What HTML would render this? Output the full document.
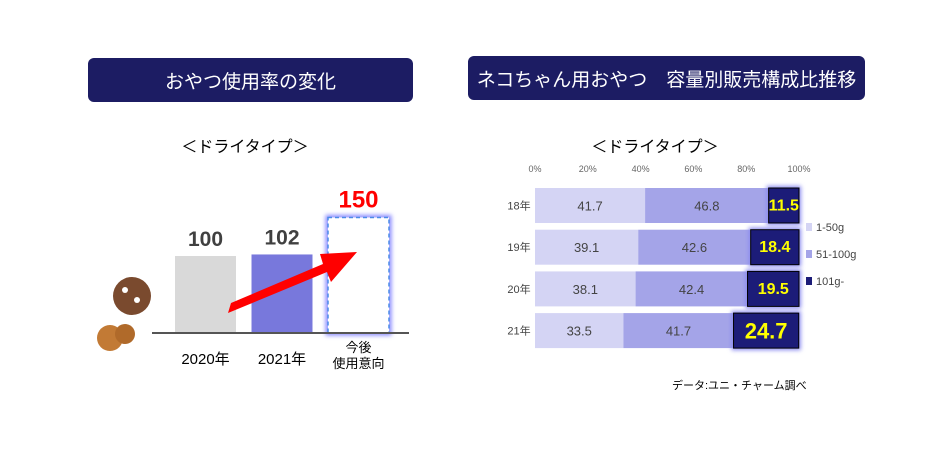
<!DOCTYPE html>
<html><head><meta charset="utf-8"><style>
body{margin:0;width:930px;height:466px;background:#fff;overflow:hidden;font-family:"Liberation Sans","Noto Sans CJK JP",sans-serif;position:relative}
.hdr{position:absolute;background:#1c1c63;color:#fff;border-radius:6px;display:flex;align-items:center;justify-content:center;font-size:19px}
.sub{position:absolute;font-size:16px;color:#000;text-align:center}
svg text{font-family:"Liberation Sans","Noto Sans CJK JP",sans-serif}
</style></head><body>
<div class="hdr" style="left:88px;top:58px;width:325px;height:44px">おやつ使用率の変化</div>
<div class="hdr" style="left:468px;top:56px;width:397px;height:44px">ネコちゃん用おやつ　容量別販売構成比推移</div>
<div class="sub" style="left:165px;top:133px;width:160px">＜ドライタイプ＞</div>
<div class="sub" style="left:575px;top:133px;width:160px">＜ドライタイプ＞</div>
<svg id="s" width="930" height="466" style="position:absolute;left:0;top:0">
<defs><filter id="gl" x="-20%" y="-20%" width="140%" height="140%"><feGaussianBlur stdDeviation="2"/></filter></defs>
<g><circle cx="132" cy="296" r="19" fill="#7a4a2e"/><circle cx="125" cy="290" r="3" fill="#fff"/><circle cx="137" cy="300" r="3" fill="#fff"/><circle cx="110" cy="338" r="13" fill="#c27a35"/><circle cx="125" cy="334" r="10" fill="#b06a2a"/></g>
<g id="left"></g><g id="right"></g>
<text x="672" y="389" font-size="11">データ:ユニ・チャーム調べ</text>
</svg>
<script>
const cats=["2020年","2021年","今後|使用意向"];
const vals=[100,102,150];
const years=["18年","19年","20年","21年"];
const s1=[41.7,39.1,38.1,33.5];
const s2=[46.8,42.6,42.4,41.7];
const s3=[11.5,18.4,19.5,24.7];
const ticks=[0,20,40,60,80,100];
const legend=["1-50g","51-100g","101g-"];
const NS="http://www.w3.org/2000/svg";
function mk(p,t,a,txt){const e=document.createElementNS(NS,t);for(const k in a)e.setAttribute(k,a[k]);if(txt!=null)e.textContent=txt;p.appendChild(e);return e;}
const L=document.getElementById('left');
const base=333, ys=v=>base-v*0.77;
const bx=i=>175+i*76.5;
const fills=["#d9d9d9","#7878dc","none"];
vals.forEach((v,i)=>{
  let r;
  if(i<2){r=mk(L,'rect',{x:bx(i),y:ys(v),width:61,height:base-ys(v),fill:fills[i]});}
  else{mk(L,'rect',{x:bx(i),y:ys(v),width:61,height:base-ys(v),fill:"none",stroke:"#8888ff","stroke-width":5,filter:"url(#gl)"});
   r=mk(L,'rect',{x:bx(i),y:ys(v),width:61,height:base-ys(v),fill:"#fff",stroke:"#4a8ae8","stroke-width":1.5,"stroke-dasharray":"4,3"});}
  
  
  const t=mk(L,'text',{x:bx(i)+30.5,y:ys(v)-10,"text-anchor":"middle","font-size":i<2?21:24,"font-weight":"bold",fill:i<2?"#404040":"#ff0000"},v);
  
  
  cats[i].split('|').forEach((c,j,a)=>{const tl=mk(L,'text',{x:bx(i)+30.5,y:a.length>1?352+j*16:364,"text-anchor":"middle","font-size":a.length>1?13:15},c);
   
   });
});
const ax=mk(L,'line',{x1:152,x2:409,y1:base,y2:base,stroke:"#555","stroke-width":2});


const ar=mk(L,'polygon',{points:"231,303 228,313 327,272 331,282 357,252 320,254 323,264",fill:"#ff0000"});


const R=document.getElementById('right');
const x0=535,x1=799,xs=p=>x0+(x1-x0)*p/100;
ticks.forEach(t=>{const e=mk(R,'text',{x:xs(t),y:172,"text-anchor":"middle","font-size":9,fill:"#666"},t+"%");
 
 });
const cols=["#d4d4f4","#a4a4e8","#1c1c78"];
years.forEach((y,i)=>{
  const top=188+i*41.7,h=35;
  const yl=mk(R,'text',{x:519,y:top+h/2+4,"text-anchor":"middle","font-size":11,fill:"#444"},y);
  
  
  const segs=[s1[i],s2[i],s3[i]];let acc=0;
  segs.forEach((v,k)=>{
    const xa=xs(acc),xb=xs(Math.min(acc+v,100));
    if(k==2) mk(R,'rect',{x:xa-2,y:top-2,width:xb-xa+4,height:h+4,fill:"#8a8af0",filter:"url(#gl)"});
    const r=mk(R,'rect',{x:xa,y:top,width:xb-xa,height:h,fill:cols[k],stroke:k==2?"#000":"none","stroke-width":1});
    
    
    const t=mk(R,'text',{x:(xa+xb)/2,y:top+h/2+(k==2&&i==3?8:5),"text-anchor":"middle","font-size":k==2?(i==3?22:16):13,"font-weight":k==2?"bold":"normal",fill:k==2?"#ffff00":"#444"},v.toFixed(1));
    
    
    acc+=v;
  });
});
legend.forEach((l,i)=>{
  const y=227+i*27;
  const sq=mk(R,'rect',{x:806,y:y-4,width:6,height:8,fill:cols[i]});
  
  
  const t=mk(R,'text',{x:816,y:y+4,"font-size":11,fill:"#444"},l);
  
  
});
</script>
</body></html>
